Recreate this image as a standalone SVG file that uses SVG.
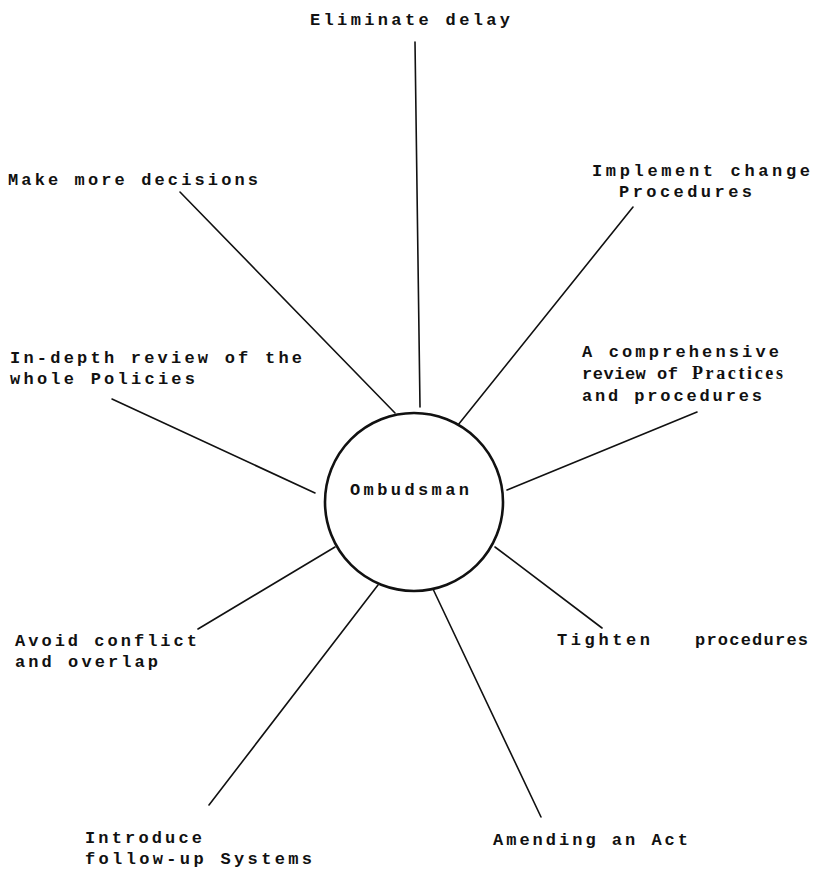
<svg xmlns="http://www.w3.org/2000/svg" width="826" height="874" viewBox="0 0 826 874">
<style>
text{font-family:"Liberation Mono","DejaVu Sans Mono",monospace;font-size:17px;font-weight:bold;fill:#111}
text.serif{font-family:"Liberation Serif","Times New Roman",serif;font-weight:bold;font-size:18px}
.ln{stroke:#111;stroke-width:1.6;fill:none;stroke-linecap:round}
.hub{stroke:#111;stroke-width:2.6;fill:#fff}
</style>
<rect width="826" height="874" fill="#fff"/>
<g id="connectors">
<line class="ln" x1="415" y1="42" x2="420" y2="407"/>
<line class="ln" x1="180" y1="192" x2="395" y2="413"/>
<line class="ln" x1="633" y1="207" x2="458" y2="425"/>
<line class="ln" x1="697" y1="412" x2="507" y2="490"/>
<line class="ln" x1="112" y1="399" x2="315" y2="493"/>
<line class="ln" x1="198" y1="629" x2="335" y2="547"/>
<line class="ln" x1="602" y1="628" x2="495" y2="547"/>
<line class="ln" x1="209" y1="805" x2="378" y2="585"/>
<line class="ln" x1="541" y1="817" x2="433" y2="589"/>
</g>
<g id="ombudsman">
<circle class="hub" cx="414" cy="502" r="89"/>
<text x="350" y="495" textLength="119" lengthAdjust="spacing">Ombudsman</text>
</g>
<g id="eliminate-delay">
<text x="310" y="25" textLength="200" lengthAdjust="spacing">Eliminate delay</text>
</g>
<g id="make-more-decisions">
<text x="8" y="185" textLength="250" lengthAdjust="spacing">Make more decisions</text>
</g>
<g id="implement-change">
<text x="592" y="176" textLength="218" lengthAdjust="spacing">Implement change</text>
<text x="619" y="197" textLength="133" lengthAdjust="spacing">Procedures</text>
</g>
<g id="comprehensive-review">
<text x="582" y="357" textLength="197" lengthAdjust="spacing">A comprehensive</text>
<text x="582" y="379" textLength="96" lengthAdjust="spacing">review of</text>
<text class="serif" x="692" y="379" textLength="91" lengthAdjust="spacing">Practices</text>
<text x="582" y="401" textLength="180" lengthAdjust="spacing">and procedures</text>
</g>
<g id="in-depth-review">
<text x="10" y="363" textLength="292" lengthAdjust="spacing">In-depth review of the</text>
<text x="10" y="384" textLength="185" lengthAdjust="spacing">whole Policies</text>
</g>
<g id="avoid-conflict">
<text x="15" y="646" textLength="182" lengthAdjust="spacing">Avoid conflict</text>
<text x="15" y="667" textLength="143" lengthAdjust="spacing">and overlap</text>
</g>
<g id="tighten-procedures">
<text y="645"><tspan x="557" textLength="93" lengthAdjust="spacing">Tighten</tspan><tspan x="695" textLength="113" lengthAdjust="spacing">procedures</tspan></text>
</g>
<g id="introduce-follow-up">
<text x="85" y="843" textLength="117" lengthAdjust="spacing">Introduce</text>
<text x="85" y="864" textLength="227" lengthAdjust="spacing">follow-up Systems</text>
</g>
<g id="amending-an-act">
<text x="493" y="845" textLength="195" lengthAdjust="spacing">Amending an Act</text>
</g>
</svg>
